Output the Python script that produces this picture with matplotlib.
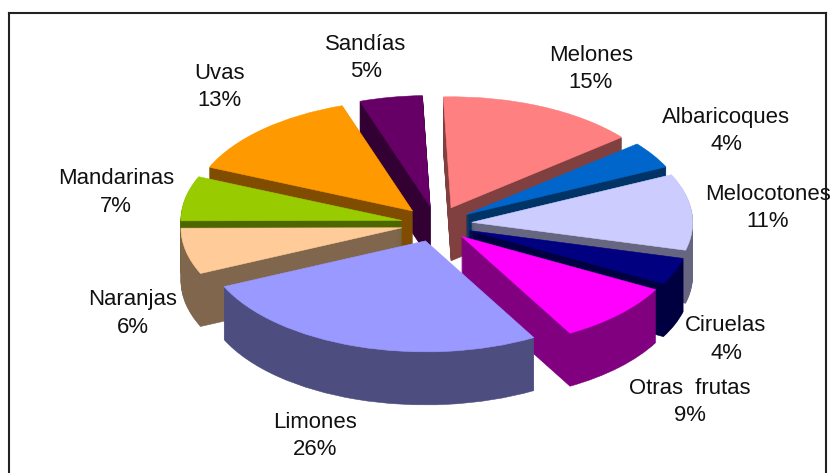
import matplotlib
matplotlib.use('Agg')
import matplotlib.pyplot as plt
import numpy as np
from matplotlib.lines import Line2D
from matplotlib.colors import to_rgb

names = ['Melones', 'Albaricoques', 'Melocotones', 'Ciruelas', 'Otras  frutas',
         'Limones', 'Naranjas', 'Mandarinas', 'Uvas', 'Sandías']
# percentages as printed on the chart
printed = [15, 4, 11, 4, 9, 26, 6, 7, 13, 5]
values = [14.6, 3.9, 11.1, 3.9, 8.9, 26.4, 6.7, 6.5, 13.4, 4.6]
colors = ['#FF8080', '#0066CC', '#CCCCFF', '#000080', '#FF00FF',
          '#9999FF', '#FFCC99', '#99CC00', '#FF9900', '#660066']

W, H = 831, 473
# pixels per unit radius, pie is squashed to look tilted
rx, ry = 221, 111
cx, cy = 436.5, 224
depth_px = 53
start = 92
explode = [0.16] * len(values)

label_x = [591, 726, 768, 726, 690, 315, 133, 116, 219, 366]
label_y = [69, 131, 208, 339.5, 402, 436, 313.5, 192.5, 87, 58]

plt.rcParams['font.family'] = ['Liberation Sans', 'DejaVu Sans']

fig = plt.figure(figsize=(W / 100, H / 100), dpi=100)
ax = fig.add_axes([0, 0, 1, 1])

mids = start - (np.cumsum(values) - np.array(values) / 2) * 3.6

# side walls: stack of darker pies going down, top pie last
for dy in range(depth_px, -1, -1):
    wedges = ax.pie(values, explode=explode, startangle=start, counterclock=False,
                    center=(0, -dy / ry))[0]
    for i, w in enumerate(wedges):
        c = to_rgb(colors[i])
        if dy > 0:
            c = tuple(v * 0.5 for v in c)
        w.set_facecolor(c)
        w.set_edgecolor(c)
        w.set_linewidth(0.4)
        # back slices first, each slice keeps its wall under its top
        w.set_zorder(10 - 5 * np.sin(np.radians(mids[i])) + (depth_px - dy) * 0.001)

ax.set_aspect('auto')
ax.set_xlim(-cx / rx, (W - cx) / rx)
ax.set_ylim(-(H - cy) / ry, cy / ry)
ax.axis('off')

for n, v, x, y in zip(names, printed, label_x, label_y):
    fig.text(x / W, 1 - y / H, f'{n}\n{v}%', ha='center', va='center',
             fontsize=15.9, color='#111111', linespacing=1.38)

# chart frame, bottom edge falls outside the picture
frame = dict(color='#222222', lw=1.5, transform=fig.transFigure)
fig.add_artist(Line2D([8.5 / W, 8.5 / W], [0, 1 - 13 / H], **frame))
fig.add_artist(Line2D([8.5 / W, 826 / W], [1 - 13 / H, 1 - 13 / H], **frame))
fig.add_artist(Line2D([826 / W, 826 / W], [0, 1 - 13 / H], **frame))

fig.savefig('out.png', dpi=100)
